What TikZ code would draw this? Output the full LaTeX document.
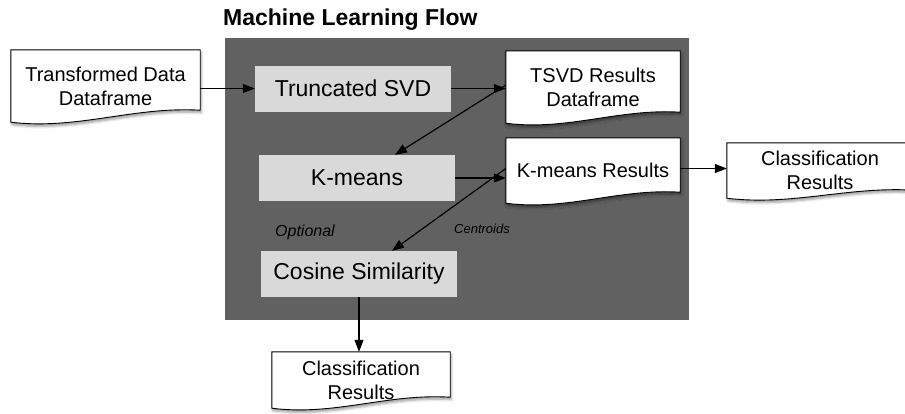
\documentclass[tikz,border=0pt]{standalone}
\usepackage{fontspec}
\setmainfont{Liberation Sans}
\usetikzlibrary{arrows.meta,calc,backgrounds,shadows.blur}

\definecolor{panelgray}{HTML}{616161}
\definecolor{stepgray}{HTML}{D9D9D9}

\tikzset{
  stepbox/.style={fill=stepgray, draw=none, minimum width=196pt, minimum height=46pt,
    inner sep=0pt, font=\fontsize{23}{27}\selectfont},
  docnode/.style={inner sep=0pt, align=center, font=\fontsize{20}{24}\selectfont},
  docshape/.style={fill=white, draw=black, line width=0.9pt,
    blur shadow={shadow xshift=1pt, shadow yshift=-2.5pt, shadow blur radius=2.5pt,
      shadow opacity=40}},
  flow/.style={draw=black, line width=1.2pt, -{Triangle[length=12pt,width=9pt]}},
  note/.style={inner sep=0pt, font=\itshape},
}

% document outline: straight top and sides, wavy bottom edge;
% #1 = node name, #2 = how far the right corner sits above the bottom
\newcommand\docoutline[2]{%
  \path[docshape]
    (#1.north west) -- (#1.north east) -- ($(#1.south east)+(0,-#2)$)
    .. controls ($(#1.south east)!0.35!(#1.south west)+(0,-#2-4)$)
           and ($(#1.south west)!0.35!(#1.south east)+(0,8)$) .. (#1.south west)
    -- cycle;}

\begin{document}
\begin{tikzpicture}[x=1pt,y=-1pt]
  \useasboundingbox (0,0) rectangle (905,413);

  % title
  \node[anchor=base west, inner sep=0pt, font=\bfseries\fontsize{23}{27}\selectfont]
    (title) at (223,25) {Machine Learning Flow};

  % processing steps
  \node[stepbox] (svd) at (353,88.5) {Truncated SVD};
  \node[stepbox] (kmeans) at (357,178) {K-means};
  \node[stepbox] (cosine) at (359,274) {Cosine Similarity};

  % data documents
  \node[docnode, minimum width=189pt, minimum height=72pt] (tdf) at (105.5,86)
    {Transformed Data\\Dataframe};
  \node[docnode, minimum width=174pt, minimum height=72pt] (tres) at (593,87)
    {TSVD Results\\Dataframe};
  \node[docnode, minimum width=174pt, minimum height=65pt] (kres) at (593,170.5)
    {K-means Results};
  \node[docnode, minimum width=186pt, minimum height=55pt] (clsa) at (820,170.5)
    {Classification\\Results};
  \node[docnode, minimum width=178pt, minimum height=56pt] (clsb) at (361,380)
    {Classification\\Results};

  % labels
  \node[note, font=\itshape\fontsize{16}{19}\selectfont] (optional) at (305,232) {Optional};
  \node[note, font=\itshape\fontsize{13}{16}\selectfont] (centroids) at (482,229) {Centroids};

  \begin{scope}[on background layer]
    \fill[panelgray] (225,38) rectangle (689,320);
    \docoutline{tdf}{12}
    \docoutline{tres}{11}
    \docoutline{kres}{11}
    \docoutline{clsa}{8}
    \docoutline{clsb}{11}
  \end{scope}

  % connectors
  \draw[flow] (tdf.east |- svd.west) -- (svd.west);
  \draw[flow] (svd.east) -- (svd.east -| tres.west);
  \draw[flow] ([yshift=2pt]tres.west) -- ([xshift=38pt]kmeans.north);
  \draw[flow] (kmeans.east) -- (kmeans.east -| kres.west);
  \draw[flow] ([yshift=2pt]kres.west) -- ([xshift=33pt]cosine.north);
  \draw[flow] ([yshift=2pt]kres.east) -- ([yshift=2pt]clsa.west);
  \draw[flow] (cosine.south) -- (cosine.south |- clsb.north);
\end{tikzpicture}
\end{document}
